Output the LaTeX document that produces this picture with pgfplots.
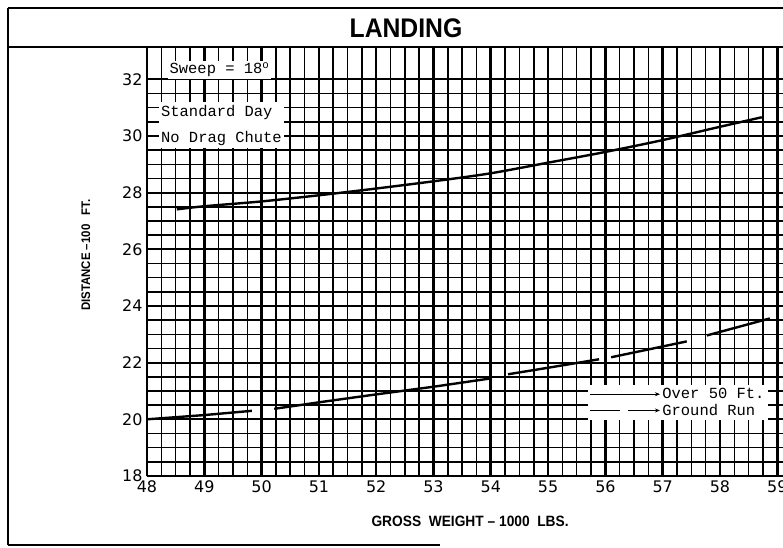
\documentclass[border=0pt]{standalone}
\usepackage{pgfplots}
\pgfplotsset{compat=1.18}
\usepackage{fontspec}
\setmainfont{Liberation Sans}
\newfontfamily\tickf{DejaVu Sans}
\newfontfamily\ttf{Liberation Mono}
\newfontfamily\headf[FakeStretch=0.92]{Liberation Sans}
\usetikzlibrary{arrows.meta}

\begin{document}
\begin{tikzpicture}[x=1bp,y=1bp]
\clip (0,0) rectangle (783,548);
\fill[white] (0,0) rectangle (783,548);
\begin{axis}[
  at={(147bp,72bp)}, anchor=south west,
  scale only axis, width=636bp, height=429bp,
  xmin=48, xmax=59.1, ymin=18, ymax=33.14,
  xtick={48,...,59}, ytick={18,20,...,32},
  minor x tick num=3, minor y tick num=3,
  grid=both,
  major x grid style={black, line width=2.6bp},
  major y grid style={black, line width=1.8bp},
  minor x grid style={black, line width=1.5bp},
  minor y grid style={black, line width=1.5bp},
  major tick length=0pt, minor tick length=0pt,
  axis x line*=bottom, axis y line*=left,
  x axis line style={-, line width=2.8bp},
  y axis line style={-, line width=2.8bp},
  /pgf/number format/assume math mode=true,
  tick label style={font=\tickf\fontsize{16}{16}\selectfont},
  xticklabel style={yshift=-1bp},
  yticklabel style={xshift=-1bp},
  xlabel={GROSS\ \ WEIGHT – 1000\ \ LBS.},
  ylabel={DISTANCE –100\ \ \ FT.},
  xlabel style={at={(axis description cs:0.508,-0.105)}, anchor=center,
    font=\headf\bfseries\fontsize{15}{15}\selectfont},
  ylabel style={at={(axis description cs:-0.096,0.515)}, anchor=center,
    font=\headf\bfseries\fontsize{12.5}{12.5}\selectfont},
  legend style={at={(0.693,0.213)}, anchor=north west, draw=none, fill=white,
    font=\ttf\fontsize{15.5}{16}\selectfont, inner sep=1.5bp,
    row sep=0bp, cells={anchor=west}},
  unbounded coords=jump,
]
\addplot[black, line width=2.4bp, smooth,
  legend image code/.code={\draw[black, line width=1bp, -{Stealth[length=5bp,width=4bp]}] (0bp,0bp) -- (70bp,0bp);}]
  coordinates {(48.52,27.41) (49.0,27.52) (50.0,27.69) (50.97,27.90) (51.94,28.13)
    (53.0,28.40) (53.99,28.68) (54.98,29.05) (55.96,29.42) (56.99,29.85)
    (57.97,30.31) (58.73,30.66)};
\addlegendentry{Over 50 Ft.}
\addplot[black, line width=2.4bp,
  legend image code/.code={\draw[black, line width=1bp] (0bp,0bp) -- (30bp,0bp);
    \draw[black, line width=1bp, -{Stealth[length=5bp,width=4bp]}] (38bp,0bp) -- (70bp,0bp);}]
  coordinates {(48.0,20.0) (49.0,20.15) (49.83,20.30) (49.9,nan)
    (50.22,20.37) (51.0,20.6) (52.0,20.88) (53.0,21.15) (54.02,21.45) (54.1,nan)
    (54.3,21.59) (55.0,21.82) (55.89,22.12) (56.0,nan)
    (56.1,22.19) (57.42,22.75) (57.6,nan)
    (57.77,22.96) (58.87,23.56)};
\addlegendentry{Ground Run}
\end{axis}
% annotation boxes
\node[fill=white, inner sep=1.5bp, anchor=west, font=\ttf\fontsize{15.5}{16}\selectfont]
  at (168,478) {Sweep = 18\textsuperscript{o}};
\node[fill=white, inner xsep=2bp, inner ysep=3bp, anchor=north west, align=left,
  font=\ttf\fontsize{15.5}{26}\selectfont] at (159,446) {Standard Day\\No Drag Chute};
% frame and title
\draw[line width=2.2bp] (8,540) -- (783,540);
\draw[line width=2.2bp] (8,501) -- (783,501);
\draw[line width=2.2bp] (8,540) -- (8,3);
\draw[line width=2.2bp] (8,3) -- (440,3);
\node[font=\headf\bfseries\fontsize{27}{27}\selectfont] at (406,520) {LANDING};
\end{tikzpicture}
\end{document}
